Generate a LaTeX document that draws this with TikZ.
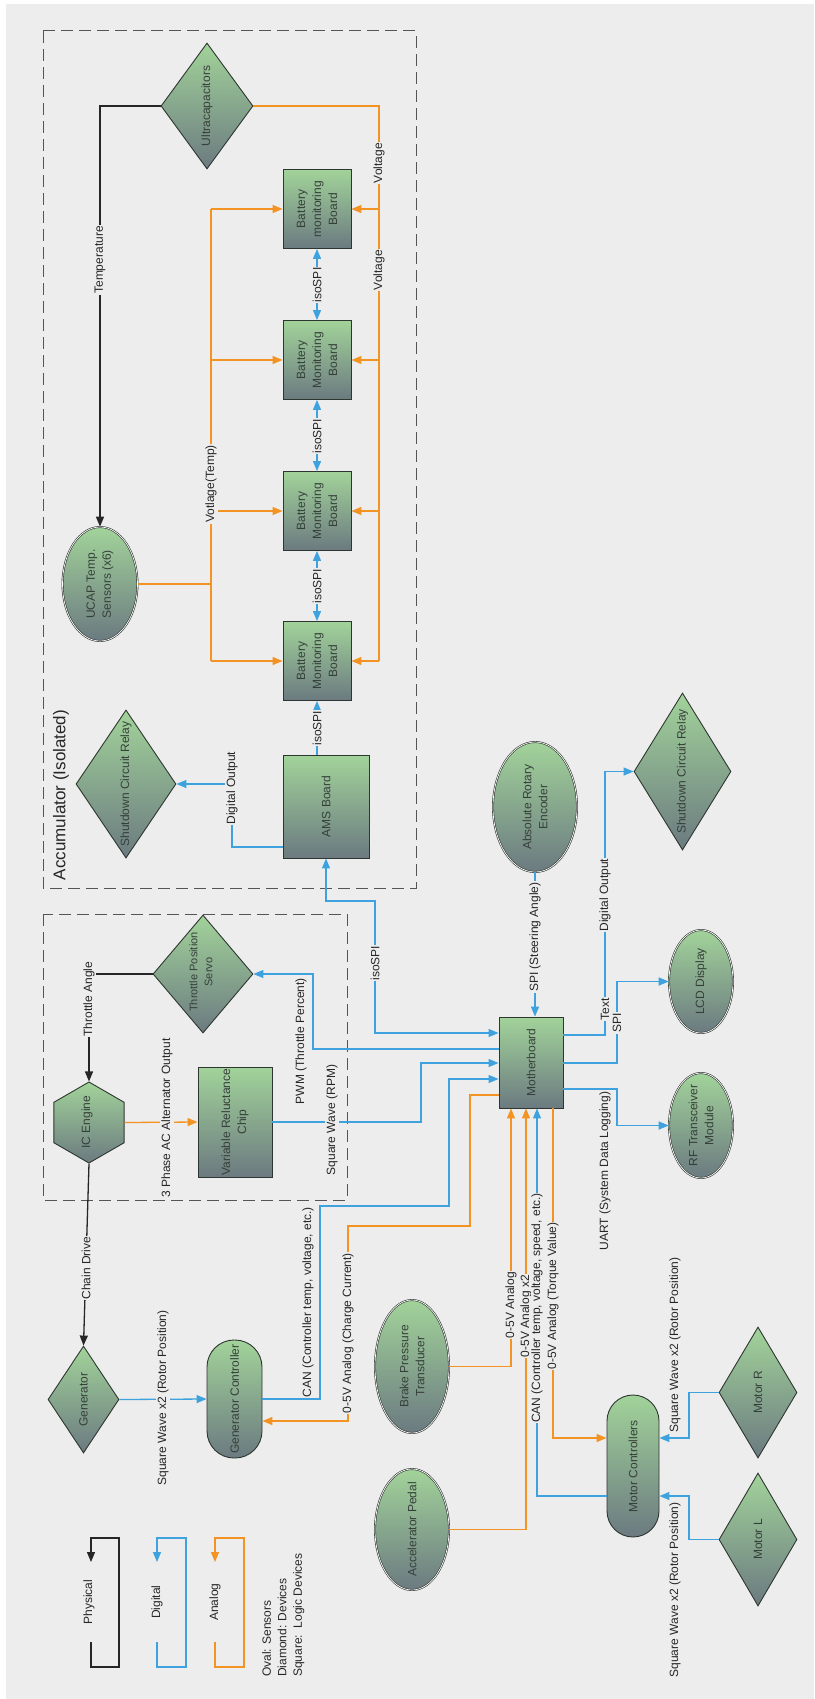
\documentclass[tikz,border=0pt]{standalone}
\usepackage{fontspec}
\setmainfont{Liberation Sans}
\usetikzlibrary{shapes.geometric,arrows.meta}
\definecolor{paper}{HTML}{ECEDEC}
\definecolor{cblue}{HTML}{3DA2DE}
\definecolor{corange}{HTML}{F29323}
\definecolor{ntop}{HTML}{A2D39A}
\definecolor{nbot}{HTML}{6B7A80}
\definecolor{nline}{HTML}{2E3630}
\definecolor{ntext}{HTML}{36403A}
\definecolor{dashc}{HTML}{555555}
\begin{document}
\begin{tikzpicture}[x=1pt,y=-1pt,
  >={Triangle[length=10pt,width=8pt]},
  dev/.style={draw=nline,line width=0.9pt,top color=ntop,bottom color=nbot,inner sep=0pt},
  boxn/.style={dev,rectangle},
  dmd/.style={dev,diamond},
  ovl/.style={dev,ellipse,line width=0.6pt,double=white,double distance=0.7pt},
  pillshape/.style={dev,rectangle},
  txt/.style={rotate=90,align=center,text=ntext,font=\fontsize{12}{16}\selectfont,inner sep=0pt},
  lbl/.style={rotate=90,fill=paper,inner sep=1pt,font=\fontsize{12}{14}\selectfont,text=black!85},
  dig/.style={draw=cblue,line width=1.3pt},
  ana/.style={draw=corange,line width=1.3pt},
  phy/.style={draw=black!85,line width=1.3pt},
  grp/.style={draw=dashc,line width=1pt,dash pattern=on 12pt off 6pt}]

\useasboundingbox (0,0) rectangle (814,1699);
\fill[white] (0,0) rectangle (814,1699);
\fill[paper] (6,4) rectangle (814,1699);

% group frames
\draw[grp] (43,31) rectangle (416,888);
\draw[grp] (43,914) rectangle (347,1200);
\node[rotate=90,font=\fontsize{17}{20}\selectfont,text=black!85] (acc) at (61,795) {Accumulator (Isolated)};

% ---------- accumulator ----------
\node[dmd,minimum width=92pt,minimum height=126pt] (ucap) at (207,106) {};
\node[boxn,minimum width=68pt,minimum height=79pt] (bmb1) at (317,209) {};
\node[boxn,minimum width=68pt,minimum height=79pt] (bmb2) at (317,360) {};
\node[boxn,minimum width=68pt,minimum height=79pt] (bmb3) at (317,511) {};
\node[boxn,minimum width=68pt,minimum height=79pt] (bmb4) at (317,661) {};
\node[boxn,minimum width=86pt,minimum height=103pt] (ams) at (326,806.5) {};
\node[dmd,minimum width=100pt,minimum height=148pt] (sdr1) at (126,784) {};
\node[ovl,minimum width=75pt,minimum height=114pt] (usens) at (100,584) {};

% ---------- engine ----------
\node[dmd,minimum width=100pt,minimum height=118pt] (servo) at (203,974) {};
\node[dev,regular polygon,regular polygon sides=6,shape border rotate=30,minimum size=81pt] (ice) at (89,1122.5) {};
\node[boxn,minimum width=74pt,minimum height=110pt] (vrc) at (235,1122) {};

% ---------- vehicle ----------
\node[dmd,minimum width=71pt,minimum height=107pt] (gen) at (83.5,1399.5) {};
\node[pillshape,rounded corners=27pt,minimum width=55pt,minimum height=118pt] (genc) at (234.5,1399) {};
\node[boxn,minimum width=64pt,minimum height=91pt] (mb) at (531,1062.5) {};
\node[ovl,minimum width=84pt,minimum height=130pt] (enc) at (535,807) {};
\node[dmd,minimum width=97pt,minimum height=157pt] (sdr2) at (682.5,771.5) {};
\node[ovl,minimum width=64pt,minimum height=103pt] (lcd) at (701,981.5) {};
\node[ovl,minimum width=64pt,minimum height=105pt] (rf) at (701,1125.5) {};
\node[ovl,minimum width=74pt,minimum height=133pt] (brake) at (412,1366.5) {};
\node[ovl,minimum width=74pt,minimum height=121pt] (accel) at (412,1529.5) {};
\node[pillshape,rounded corners=26pt,minimum width=52pt,minimum height=142pt] (motc) at (633,1466) {};
\node[dmd,minimum width=78pt,minimum height=131pt] (motr) at (758,1392.5) {};
\node[dmd,minimum width=78pt,minimum height=133pt] (motl) at (758,1539.5) {};

% node captions
\node[txt] (t-ucap) at (ucap) {Ultracapacitors};
\node[txt] (t-bmb1) at (bmb1) {Battery\\monitoring\\Board};
\node[txt] (t-bmb2) at (bmb2) {Battery\\Monitoring\\Board};
\node[txt] (t-bmb3) at (bmb3) {Battery\\Monitoring\\Board};
\node[txt] (t-bmb4) at (bmb4) {Battery\\Monitoring\\Board};
\node[txt] (t-ams) at (ams) {AMS Board};
\node[txt] (t-sdr1) at (sdr1) {Shutdown Circuit Relay};
\node[txt] (t-usens) at (usens) {UCAP Temp.\\Sensors (x6)};
\node[txt,font=\fontsize{11}{15}\selectfont] (t-servo) at (201,972) {Throttle Position\\Servo};
\node[txt] (t-ice) at (87,1122) {IC Engine};
\node[txt] (t-vrc) at (vrc) {Variable Reluctance\\Chip};
\node[txt] (t-gen) at (gen) {Generator};
\node[txt] (t-genc) at (genc) {Generator Controller};
\node[txt] (t-mb) at (mb) {Motherboard};
\node[txt] (t-enc) at (enc) {Absolute Rotary\\Encoder};
\node[txt] (t-sdr2) at (sdr2) {Shutdown Circuit Relay};
\node[txt] (t-lcd) at (lcd) {LCD Display};
\node[txt] (t-rf) at (rf) {RF Transceiver\\Module};
\node[txt] (t-brake) at (brake) {Brake Pressure\\Transducer};
\node[txt] (t-accel) at (accel) {Accelerator Pedal};
\node[txt] (t-motc) at (motc) {Motor Controllers};
\node[txt] (t-motr) at (motr) {Motor R};
\node[txt] (t-motl) at (motl) {Motor L};

% ---------- accumulator wiring ----------
\draw[phy,->] (ucap.west) -- (ucap.west -| usens.north) -- (usens.north);
\coordinate (vbus) at (379,106);
\draw[ana] (ucap.east) -- (vbus) -- (vbus |- bmb4.east);
\foreach \b in {bmb1,bmb2,bmb3,bmb4} \draw[ana,->] (vbus |- \b.east) -- (\b.east);
\coordinate (tbus) at (211,209);
\draw[ana] (usens.east) -- (tbus |- usens.east);
\draw[ana] (tbus |- bmb1.west) -- (tbus |- bmb4.west);
\foreach \b in {bmb1,bmb2,bmb3,bmb4} \draw[ana,->] (tbus |- \b.west) -- (\b.west);
\draw[dig,<->] (bmb1.south) -- (bmb2.north);
\draw[dig,<->] (bmb2.south) -- (bmb3.north);
\draw[dig,<->] (bmb3.south) -- (bmb4.north);
\draw[dig,->] (ams.north -| bmb4.south) -- (bmb4.south);
\coordinate (adig) at (232,847);
\draw[dig,->] (adig -| ams.west) -- (adig) |- (sdr1.east);

% ---------- engine wiring ----------
\draw[phy,->] (servo.west) -- (servo.west -| ice.north) -- (ice.north);
\draw[ana,->] (ice.east) -- (vrc.west);
\draw[phy,->] (ice.south) -- (gen.north);
\draw[dig,->] (gen.east) -- (genc.west);

% ---------- motherboard wiring ----------
\draw[dig,<->] (ams.south) -- (ams.south |- 0,901) -- (375,901) -- (375,1033) -- (mb.west |- 0,1033);
\draw[dig,->] (mb.west |- 0,1049) -- (313,1049) -- (313,974) -- (servo.east);
\draw[dig,->] (vrc.east) -- (421,1122) -- (421,1063) -- (mb.west |- 0,1063);
\draw[dig,->] (genc.east) -- (320,1399) -- (320,1206) -- (449,1206) -- (449,1079) -- (mb.west |- 0,1079);
\draw[ana,->] (mb.west |- 0,1095) -- (470,1095) -- (470,1226) -- (348,1226) -- (348,1421) -- (genc.east |- 0,1421);
\draw[ana,->] (brake.east) -- (511,1366.5) -- (mb.south -| 511,0);
\draw[ana,->] (accel.east) -- (526,1529.5) -- (mb.south -| 526,0);
\draw[dig,->] (motc.west |- 0,1496) -- (537,1496) -- (mb.south -| 537,0);
\draw[ana,->] (mb.south -| 553,0) -- (553,1438) -- (motc.west |- 0,1438);
\draw[dig,->] (motr.west) -- (689,1392.5) -- (689,1438) -- (motc.east |- 0,1438);
\draw[dig,->] (motl.west) -- (689,1539.5) -- (689,1496) -- (motc.east |- 0,1496);
\draw[dig,->] (enc.south) -- (enc.south |- mb.north);
\draw[dig,->] (mb.east |- 0,1035) -- (605,1035) -- (605,771.5) -- (sdr2.west);
\draw[dig,->] (mb.east |- 0,1063) -- (617,1063) -- (617,981.5) -- (lcd.west);
\draw[dig,->] (mb.east |- 0,1089) -- (617,1089) -- (617,1125.5) -- (rf.west);

% ---------- connector labels ----------
\node[lbl] (l-temp) at (100,260) {Temperature};
\node[lbl] (l-v1) at (379,163) {Voltage};
\node[lbl] (l-v2) at (379,270) {Voltage};
\node[lbl] (l-vt) at (211,484) {Votlage(Temp)};
\node[lbl] (l-i1) at (317,285) {isoSPI};
\node[lbl] (l-i2) at (317,436) {isoSPI};
\node[lbl] (l-i3) at (317,586) {isoSPI};
\node[lbl] (l-i4) at (317,728) {isoSPI};
\node[lbl] (l-do1) at (232,788) {Digital Output};
\node[lbl] (l-i5) at (375,963) {isoSPI};
\node[lbl] (l-pwm) at (301,1041) {PWM (Throttle Percent)};
\node[lbl] (l-rpm) at (332,1120) {Square Wave (RPM)};
\node[lbl] (l-ta) at (89,999) {Throttle Angle};
\node[lbl] (l-3ph) at (167,1118) {3 Phase AC Alternator Output};
\node[lbl] (l-cd) at (86,1268) {Chain Drive};
\node[lbl] (l-sqg) at (163,1398) {Square Wave x2 (Rotor Position)};
\node[lbl] (l-cang) at (308,1302) {CAN (Controller temp, voltage, etc.)};
\node[lbl] (l-chg) at (348,1333) {0-5V Analog (Charge Current)};
\node[lbl,inner sep=0.5pt] (l-br) at (511,1305) {0-5V Analog};
\node[lbl,inner sep=0.5pt] (l-ac) at (526,1316) {0-5V Analog x2};
\node[lbl,inner sep=0.5pt] (l-canm) at (537,1308) {CAN (Controller temp, voltage, speed, etc.)};
\node[lbl,inner sep=0.5pt] (l-tq) at (553,1296) {0-5V Analog (Torque Value)};
\node[lbl] (l-sqr) at (675,1345) {Square Wave x2 (Rotor Position)};
\node[lbl] (l-sql) at (675,1590) {Square Wave x2 (Rotor Position)};
\node[lbl] (l-spi1) at (535,937) {SPI (Steering Angle)};
\node[lbl] (l-do2) at (605,895) {Digital Output};
\node[lbl] (l-txt) at (605,1009) {Text};
\node[lbl] (l-spi2) at (617,1023) {SPI};
\node[lbl] (l-uart) at (605,1171) {UART (System Data Logging)};

% ---------- legend ----------
\coordinate (pA) at (91,1642); \coordinate (pB) at (91,1562);
\coordinate (dA) at (157,1642); \coordinate (dB) at (157,1562);
\coordinate (aA) at (215,1642); \coordinate (aB) at (215,1562);
\draw[phy,->] (pA) -- (91,1667) -- (119,1667) -- (119,1538) -- (91,1538) -- (pB);
\draw[dig,->] (dA) -- (157,1667) -- (186,1667) -- (186,1538) -- (157,1538) -- (dB);
\draw[ana,->] (aA) -- (215,1667) -- (244,1667) -- (244,1538) -- (215,1538) -- (aB);
\node[lbl,fill=none] (k-p) at (89,1602) {Physical};
\node[lbl,fill=none] (k-d) at (157,1602) {Digital};
\node[lbl,fill=none] (k-a) at (215,1602) {Analog};
\node[rotate=90,anchor=north west,inner sep=0pt,align=left,font=\fontsize{12}{15.5}\selectfont,text=black!85] (k-s) at (262,1677)
  {Oval: Sensors\\Diamond: Devices\\Square:\ \ Logic Devices};
\end{tikzpicture}
\end{document}
